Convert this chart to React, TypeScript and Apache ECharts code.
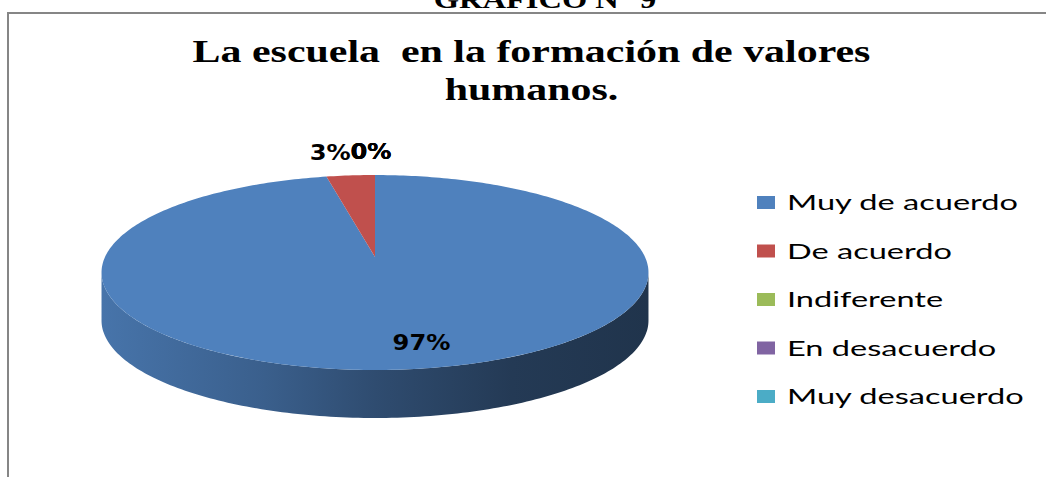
import React, { useEffect, useRef } from "react";
import * as echarts from "echarts";

// ---- data ----
const CATEGORIES = ["Muy de acuerdo", "De acuerdo", "Indiferente", "En desacuerdo", "Muy desacuerdo"];
const VALUES = [29, 1, 0, 0, 0];
const COLORS = ["#4F81BD", "#C0504D", "#9BBB59", "#8064A2", "#4BACC6"];
const TITLE_LINES = ["La escuela  en la formación de valores", "humanos."];
const CAPTION = "GRÁFICO N° 9";

// ---- geometry of the 3D pie (perspective projection of a disc) ----
const CX = 375;
const CY = 257;
const RA = 270;
const RB = 95;
const K = 0.159;
const DEPTH = 48;
const TWO_PI = Math.PI * 2;
const VIS_LO = Math.acos(-K);
const VIS_HI = TWO_PI - Math.acos(-K);

const TOTAL = VALUES.reduce((a, b) => a + b, 0);
const STARTS: number[] = [];
{
  let acc = 0;
  VALUES.forEach((v) => {
    STARTS.push((acc / TOTAL) * TWO_PI);
    acc += v;
  });
}

function project(theta: number, f: number): [number, number] {
  const u = f * Math.sin(theta);
  const w = f * Math.cos(theta);
  const d = 1 + K * w;
  return [CX + (RA * u) / d, CY - (RB * w) / d];
}

function arcPoints(a0: number, a1: number, f: number): [number, number][] {
  const pts: [number, number][] = [];
  const steps = Math.max(2, Math.ceil(((a1 - a0) / TWO_PI) * 360));
  for (let s = 0; s <= steps; s++) {
    pts.push(project(a0 + ((a1 - a0) * s) / steps, f));
  }
  return pts;
}

function shade(hex: string, f: number): string {
  const n = parseInt(hex.slice(1), 16);
  const r = Math.round(((n >> 16) & 255) * f);
  const g = Math.round(((n >> 8) & 255) * f);
  const b = Math.round((n & 255) * f);
  return `rgb(${r},${g},${b})`;
}

function sideFill(hex: string) {
  return new echarts.graphic.LinearGradient(
    CX - RA * 1.013,
    0,
    CX + RA * 1.013,
    0,
    [
      { offset: 0, color: shade(hex, 0.9) },
      { offset: 0.3, color: shade(hex, 0.74) },
      { offset: 0.5, color: shade(hex, 0.59) },
      { offset: 0.75, color: shade(hex, 0.45) },
      { offset: 1, color: shade(hex, 0.4) },
    ],
    true
  );
}

const LABEL_FONT = "DejaVu Sans";
const INSIDE_DX = 21;

export default function App() {
  const ref = useRef<HTMLDivElement>(null);

  useEffect(() => {
    if (!ref.current) return;
    const chart = echarts.init(ref.current, null, { renderer: "svg" });
    const data = VALUES.map((v, i) => ({ name: CATEGORIES[i], value: v, itemStyle: { color: COLORS[i] } }));

    const legendRows = CATEGORIES.map((_, i) => 202.5 + i * 48.5);

    const graphic: any[] = [
      {
        type: "rect",
        shape: { x: 8, y: 13, width: 1200, height: 700 },
        style: { fill: "none", stroke: "#868686", lineWidth: 2 },
        silent: true,
      },
      {
        type: "text",
        x: 545,
        y: -1,
        scaleX: 1.25,
        style: {
          text: CAPTION,
          fontFamily: "Liberation Serif",
          fontWeight: "bold",
          fontSize: 26,
          fill: "#000",
          textAlign: "center",
          textVerticalAlign: "middle",
        },
      },
      ...TITLE_LINES.map((t, i) => ({
        type: "text",
        x: 531.5,
        y: 51.5 + i * 38,
        scaleX: 1.31,
        style: {
          text: t,
          fontFamily: "Liberation Serif",
          fontWeight: "bold",
          fontSize: 32,
          fill: "#000",
          textAlign: "center",
          textVerticalAlign: "middle",
        },
      })),
      ...CATEGORIES.flatMap((c, i) => [
        {
          type: "rect",
          shape: { x: 757, y: legendRows[i] - 6.5, width: 18, height: 13 },
          style: { fill: COLORS[i] },
        },
        {
          type: "text",
          x: 787,
          y: legendRows[i] - 0.5,
          scaleX: 1.55,
          style: {
            text: c,
            fontFamily: "Lato",
            fontSize: 21,
            fill: "#000",
            textAlign: "left",
            textVerticalAlign: "middle",
          },
        },
      ]),
    ];

    chart.setOption({
      animation: false,
      backgroundColor: "#ffffff",
      graphic,
      series: [
        {
          type: "custom",
          name: "side",
          coordinateSystem: "none",
          z: 1,
          silent: true,
          data,
          renderItem: (params: any, api: any) => {
            const i = params.dataIndex;
            const v = api.value(0);
            const a0 = STARTS[i];
            const a1 = a0 + (v / TOTAL) * TWO_PI;
            const lo = Math.max(a0, VIS_LO);
            const hi = Math.min(a1, VIS_HI);
            if (!(v > 0) || hi <= lo) return { type: "group", children: [] };
            const top = arcPoints(lo, hi, 1);
            const bottom = top.map(([x, y]) => [x, y + DEPTH] as [number, number]).reverse();
            return {
              type: "polygon",
              shape: { points: top.concat(bottom) },
              style: { fill: sideFill(COLORS[i]) },
            };
          },
        },
        {
          type: "custom",
          name: "top",
          coordinateSystem: "none",
          z: 2,
          silent: true,
          data,
          renderItem: (params: any, api: any) => {
            const i = params.dataIndex;
            const v = api.value(0);
            if (!(v > 0)) return { type: "group", children: [] };
            const a0 = STARTS[i];
            const a1 = a0 + (v / TOTAL) * TWO_PI;
            const pts = [project(0, 0), ...arcPoints(a0, a1, 1)];
            return {
              type: "polygon",
              shape: { points: pts },
              style: { fill: COLORS[i] },
            };
          },
        },
        {
          type: "custom",
          name: "labels",
          coordinateSystem: "none",
          z: 3,
          silent: true,
          data,
          renderItem: (params: any, api: any) => {
            const i = params.dataIndex;
            const v = api.value(0);
            const pct = Math.round((v / TOTAL) * 100);
            const a0 = STARTS[i];
            const a1 = a0 + (v / TOTAL) * TWO_PI;
            const mid = v > 0 ? (a0 + a1) / 2 : a1;
            let x: number;
            let y: number;
            let align = "center";
            if (pct >= 10) {
              const p = project(mid, 0.79);
              x = p[0] + INSIDE_DX;
              y = p[1];
            } else {
              const p = project(mid, 1);
              const s = Math.sin(mid);
              x = p[0];
              y = p[1] - 23;
              align = s < -0.05 ? "right" : s > 0.05 ? "left" : "center";
              if (align === "center") x -= 4;
            }
            return {
              type: "text",
              x,
              y,
              scaleX: 1.15,
              style: {
                text: pct + "%",
                fontFamily: LABEL_FONT,
                fontWeight: "bold",
                fontSize: 21,
                fill: "#000",
                textAlign: align,
                textVerticalAlign: "middle",
              },
            };
          },
        },
      ],
    });
    return () => chart.dispose();
  }, []);

  return (
    <div
      ref={ref}
      style={{ position: "fixed", left: 0, top: 0, width: 1046, height: 477, background: "#fff" }}
    />
  );
}
